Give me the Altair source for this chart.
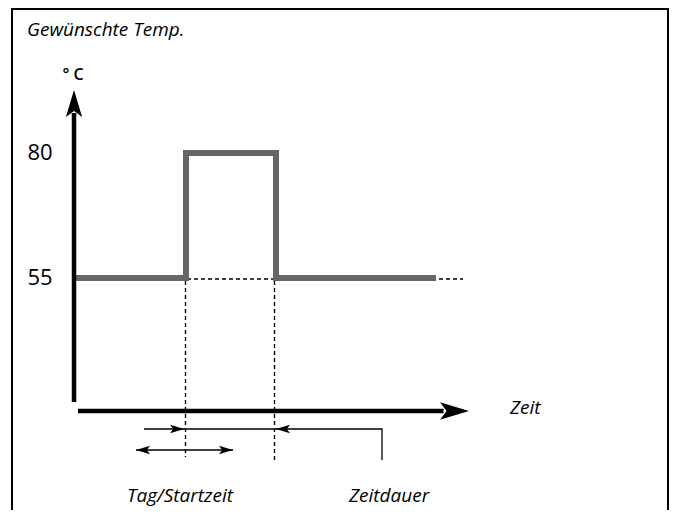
import altair as alt
import pandas as pd

# ---- data (schematic units: x = time units, y = degrees C) ----
step_times = [0, 22, 22, 40, 40, 72]
step_temps = [55, 55, 80, 80, 55, 55]

level_labels = ["80", "55"]
level_values = [80, 55]

# dashed guide lines: id, time, temp
dash_id = ["h", "h", "v1", "v1", "v2", "v2"]
dash_t = [22.2, 77.4, 21.9, 21.9, 39.7, 39.7]
dash_T = [54.8, 54.8, 54.4, 19.2, 54.4, 18.4]

# thick axis lines
axis_id = ["y", "y", "x", "x"]
axis_t = [-0.4, -0.4, 0.4, 73.5]
axis_T = [30.2, 88.0, 28.4, 28.4]

# thin annotation lines
thin_id = ["a", "a", "a", "b", "b"]
thin_t = [13.6, 61.2, 61.2, 12.0, 31.4]
thin_T = [24.8, 24.8, 18.6, 20.6, 20.6]

# arrow heads
head_t = [-0.4, 75.7, 20.2, 41.4, 13.4, 30.0]
head_T = [89.9, 28.4, 24.8, 24.8, 20.6, 20.6]
head_angle = [0, 90, 90, 270, 270, 90]
head_size = [729, 841, 196, 196, 196, 196]

# texts
italic_text = ["Zeit", "Tag/Startzeit", "Zeitdauer"]
italic_t = [86.8, 20.8, 62.6]
italic_T = [29.0, 11.4, 11.4]
italic_align = ["left", "center", "center"]

title_text = "Gewünschte Temp."
unit_text = "° C"

W, H = 661, 502
xs = alt.Scale(domain=[-13.6, 118.6], nice=False, zero=False)
ys = alt.Scale(domain=[8.6, 109], nice=False, zero=False)

def X():
    return alt.X("t:Q", scale=xs, axis=None)

def Y():
    return alt.Y("T:Q", scale=ys, axis=None)

step_df = pd.DataFrame({"t": step_times, "T": step_temps, "o": range(len(step_times))})
dash_df = pd.DataFrame({"id": dash_id, "t": dash_t, "T": dash_T, "o": range(len(dash_t))})
axis_df = pd.DataFrame({"id": axis_id, "t": axis_t, "T": axis_T, "o": range(len(axis_t))})
thin_df = pd.DataFrame({"id": thin_id, "t": thin_t, "T": thin_T, "o": range(len(thin_t))})
head_df = pd.DataFrame({"t": head_t, "T": head_T, "a": head_angle, "s": head_size})
lvl_df = pd.DataFrame({"lab": level_labels, "T": level_values, "t": [-7.2, -7.2]})
ital_df = pd.DataFrame({"lab": italic_text, "t": italic_t, "T": italic_T, "al": italic_align})

dashed = alt.Chart(dash_df).mark_line(color="black", strokeWidth=1.4, strokeDash=[4, 3]).encode(
    x=X(), y=Y(), detail="id:N", order="o:Q")

step = alt.Chart(step_df).mark_line(color="#666666", strokeWidth=6, strokeJoin="miter", strokeCap="butt").encode(
    x=X(), y=Y(), order="o:Q")

axes = alt.Chart(axis_df).mark_line(color="black", strokeWidth=4.5, strokeCap="butt").encode(
    x=X(), y=Y(), detail="id:N", order="o:Q")

thin = alt.Chart(thin_df).mark_line(color="black", strokeWidth=1.3, strokeJoin="miter").encode(
    x=X(), y=Y(), detail="id:N", order="o:Q")

heads = alt.Chart(head_df).mark_point(
    shape="M0,-1L0.6,1L0,0.55L-0.6,1Z", filled=True, color="black", opacity=1, strokeWidth=0
).encode(x=X(), y=Y(), angle=alt.Angle("a:Q", scale=None), size=alt.Size("s:Q", scale=None))

levels = alt.Chart(lvl_df).mark_text(font="Open Sans", fontSize=22, color="black", align="center", baseline="middle").encode(
    x=X(), y=Y(), text="lab:N")

ital_left = alt.Chart(ital_df[ital_df.al == "left"]).mark_text(
    font="Open Sans", fontStyle="italic", fontSize=19, color="black", align="left", baseline="middle"
).encode(x=X(), y=Y(), text="lab:N")
ital_center = alt.Chart(ital_df[ital_df.al == "center"]).mark_text(
    font="Open Sans", fontStyle="italic", fontSize=19, color="black", align="center", baseline="middle"
).encode(x=X(), y=Y(), text="lab:N")

title = alt.Chart(pd.DataFrame({"lab": [title_text], "t": [-9.8], "T": [104.6]})).mark_text(
    font="Open Sans", fontStyle="italic", fontSize=19, color="black", align="left", baseline="middle"
).encode(x=X(), y=Y(), text="lab:N")

unit = alt.Chart(pd.DataFrame({"lab": [unit_text], "t": [-0.6], "T": [95.6]})).mark_text(
    font="Open Sans", fontWeight=600, fontSize=16, color="black", align="center", baseline="middle"
).encode(x=X(), y=Y(), text="lab:N")

frame_df = pd.DataFrame({"k": ["l", "r"], "x": [4, 660]})
frame_v = alt.Chart(frame_df).mark_rule(color="black", strokeWidth=2).encode(
    x=alt.X("x:Q", scale=None), y=alt.value(0), y2=alt.value(H))
frame_top = alt.Chart(pd.DataFrame({"k": ["t"]})).mark_rule(color="black", strokeWidth=2).encode(
    x=alt.value(3), x2=alt.value(661), y=alt.value(1))

chart = alt.layer(
    frame_v, frame_top, dashed, step, axes, thin, heads, levels, ital_left, ital_center, title, unit
).properties(width=W, height=H, padding=0, autosize="none").configure_view(stroke=None)

chart.save("out.html", embed_options={"renderer": "svg", "actions": False})
